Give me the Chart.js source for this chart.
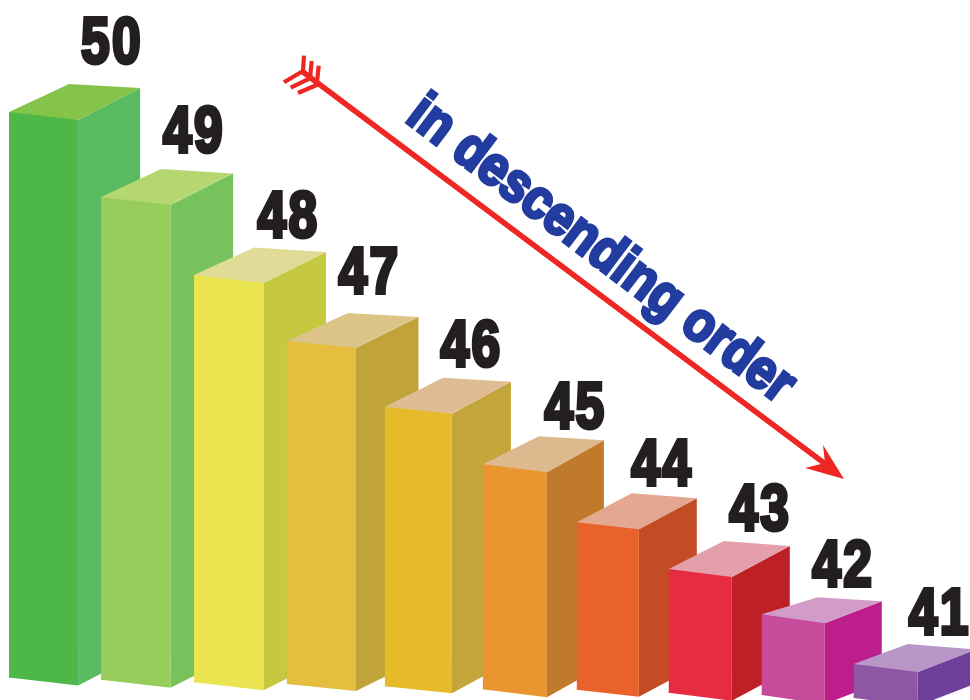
<!DOCTYPE html>
<html>
<head>
<meta charset="utf-8">
<title>in descending order</title>
<style>
  html, body { margin: 0; padding: 0; background: #fff; }
  canvas { display: block; }
</style>
<script src="https://cdn.jsdelivr.net/npm/chart.js@4/dist/chart.umd.js"></script>
</head>
<body>
<canvas id="barChart" width="970" height="700"></canvas>
<script>
// numbers printed above the bars
const categories = ['50', '49', '48', '47', '46', '45', '44', '43', '42', '41'];
// drawn bar extent, tallest bar = 100
const barTops = [100, 85.5, 72.2, 60.9, 49.7, 39.9, 30, 22, 14.3, 5.8];
const barBottoms = [3.5, 3.1, 2.7, 2.4, 2, 1.5, 1.4, 0.9, 0.5, 0];

const frontColors = ['#4db848', '#95cc5a', '#e9e450', '#e5bd3f', '#e5bb2a', '#ea9630', '#e9622b', '#e72c41', '#c64b9b', '#8f56a4'];
const sideColors = ['#5aba62', '#78c25e', '#c6c940', '#c0a33a', '#c3a53b', '#bf7a2b', '#c44c25', '#bf2026', '#bc1e8c', '#6f3f9c'];
const topColors = ['#84c44a', '#b5d772', '#e0dc98', '#dcc486', '#dfbd93', '#deb98d', '#e3a88f', '#e3a0ab', '#d19cc7', '#b896c7'];

// bar look: the bars are not evenly spaced or sized in the original
const xNudge = [-0.4, -1.75, -2.35, -3.2, 0.2, 3.1, 2.5, 1.4, 0.8, -0.3];
const barWidths = [69, 69.5, 69.5, 69, 67, 64, 62, 63, 63, 64];
const frontSlant = [8, 8, 8, 7, 7, 8, 7, 8, 9, 8];
const sideDx = [62, 62.5, 62.5, 62.5, 59, 57, 58, 58, 57, 58];
const sideDy = [32, 31.5, 31, 31, 32, 32, 31, 31, 22, 22.6];
const backDx = [60, 60, 60, 61, 58, 56, 55, 55, 56, 54];
const backDy = [28, 28, 27.5, 28, 29, 28, 29, 28, 17, 20];
const labelDx = [68.5, 58.25, 59.75, 48, 53, 60.5, 54.5, 60, 50, 54];
const labelDy = [47, 43, 36, 47, 39, 35, 36, 38, 27, 29];

function poly(ctx, pts, color) {
  ctx.fillStyle = color;
  ctx.beginPath();
  pts.forEach((p, i) => i ? ctx.lineTo(p[0], p[1]) : ctx.moveTo(p[0], p[1]));
  ctx.closePath();
  ctx.fill();
}

// move the bars off the even category slots
const barLayout = {
  id: 'barLayout',
  afterDatasetsUpdate(chart) {
    chart.getDatasetMeta(0).data.forEach((bar, i) => {
      bar.x += xNudge[i];
      bar.width = barWidths[i];
    });
  }
};

// side, front and top of each bar, left to right so later bars cover earlier sides
const bars3d = {
  id: 'bars3d',
  beforeDatasetDraw(chart, args) {
    const ctx = chart.ctx;
    args.meta.data.forEach((bar, i) => {
      const left = bar.x - bar.width / 2;
      const right = bar.x + bar.width / 2;
      const s = frontSlant[i];
      poly(ctx, [
        [right, bar.y + s],
        [right + sideDx[i], bar.y + s - sideDy[i]],
        [right + sideDx[i], bar.base + s - sideDy[i]],
        [right, bar.base + s]
      ], sideColors[i]);
      bar.draw(ctx);
      // bottom edge of the front runs downhill
      poly(ctx, [[left, bar.base - 2], [right, bar.base - 2], [right, bar.base + s], [left, bar.base]], frontColors[i]);
      poly(ctx, [
        [left, bar.y],
        [right, bar.y + s],
        [right + sideDx[i], bar.y + s - sideDy[i]],
        [left + backDx[i], bar.y - backDy[i]]
      ], topColors[i]);
    });
    return false;
  }
};

// no heavy condensed face is installed, so squeeze a bold one and thicken it
function heavyText(ctx, text, x, y, targetWidth, color, lineWidth) {
  const sx = targetWidth / ctx.measureText(text).width;
  ctx.save();
  ctx.translate(x, y);
  ctx.scale(sx, 1);
  ctx.fillStyle = color;
  ctx.strokeStyle = color;
  ctx.lineWidth = lineWidth;
  ctx.lineJoin = 'miter';
  ctx.miterLimit = 2;
  ctx.strokeText(text, 0, 0);
  ctx.fillText(text, 0, 0);
  ctx.restore();
}

function drawArrow(ctx) {
  const red = '#ee2722';
  ctx.strokeStyle = red;
  ctx.lineWidth = 5.5;
  ctx.lineCap = 'butt';
  ctx.beginPath();
  ctx.moveTo(303, 72);
  ctx.lineTo(828, 466);
  ctx.stroke();
  poly(ctx, [[844, 479], [805, 468], [825, 463], [823, 445]], red);
  // fletching
  ctx.lineWidth = 4.2;
  [
    [[318.7, 65.7], [316.7, 85], [298, 93]],
    [[311.7, 61], [310, 78.3], [290.7, 87.7]],
    [[304, 55.7], [303, 71], [284, 82.3]]
  ].forEach(f => {
    ctx.beginPath();
    ctx.moveTo(f[0][0], f[0][1]);
    ctx.lineTo(f[1][0], f[1][1]);
    ctx.lineTo(f[2][0], f[2][1]);
    ctx.stroke();
  });
}

const annotations = {
  id: 'annotations',
  afterDraw(chart) {
    const ctx = chart.ctx;
    ctx.save();
    ctx.textAlign = 'center';
    ctx.textBaseline = 'alphabetic';
    ctx.font = 'bold 65px "Liberation Sans", sans-serif';
    ctx.letterSpacing = '3px';
    chart.getDatasetMeta(0).data.forEach((bar, i) => {
      heavyText(ctx, categories[i], bar.x + labelDx[i], bar.y - labelDy[i] - 1.5, 62, '#231f20', 4);
    });
    ctx.letterSpacing = '0px';
    drawArrow(ctx);
    ctx.translate(404, 120.5);
    ctx.rotate(37.2 * Math.PI / 180);
    ctx.textAlign = 'left';
    ctx.font = 'bold 56px "Liberation Sans", sans-serif';
    heavyText(ctx, 'in descending order', 0, 0, 470, '#233c9f', 3.5);
    ctx.restore();
  }
};

new Chart(document.getElementById('barChart'), {
  type: 'bar',
  data: {
    labels: categories,
    datasets: [{
      data: barBottoms.map((b, i) => [b, barTops[i]]),
      backgroundColor: frontColors,
      borderWidth: 0
    }]
  },
  options: {
    responsive: false,
    animation: false,
    layout: { padding: { left: 44, right: 84, top: 0, bottom: 0 } },
    plugins: { legend: { display: false }, tooltip: { enabled: false } },
    scales: {
      x: { display: false, offset: false },
      y: { display: false, min: -0.34, max: 119.11 }
    }
  },
  plugins: [barLayout, bars3d, annotations]
});
</script>
</body>
</html>
